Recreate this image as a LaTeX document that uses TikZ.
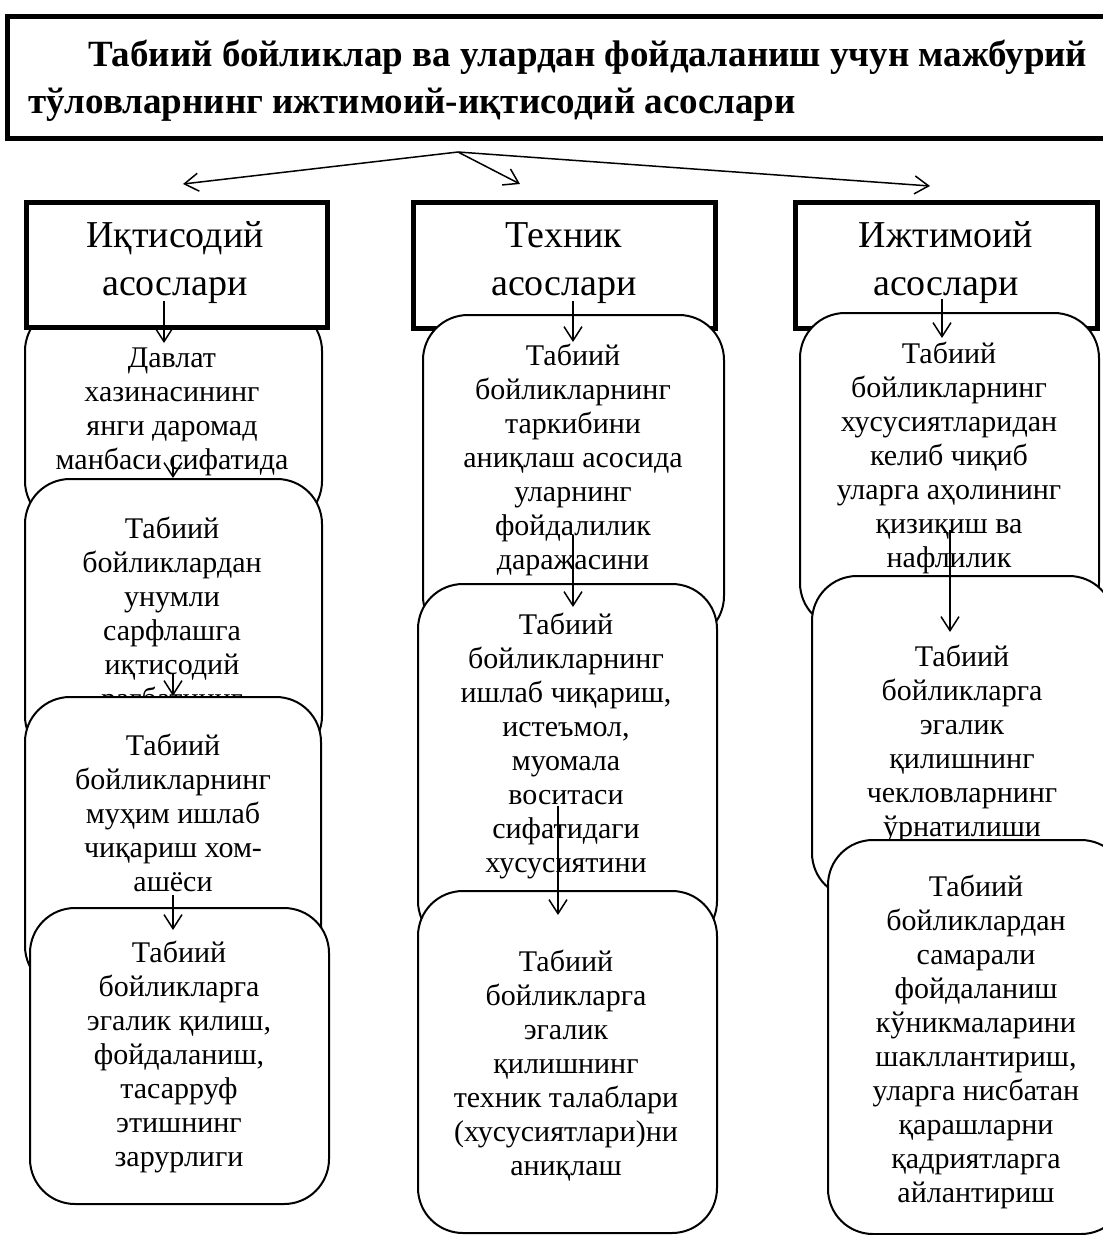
\documentclass[tikz,border=0pt]{standalone}
\usepackage{fontspec}
\setmainfont{Liberation Serif}
\usetikzlibrary{arrows.meta}
\tikzset{
  rbox/.style={draw, line width=2pt, fill=white, rounded corners=45pt, inner sep=0pt, anchor=north west},
  hbox/.style={draw, line width=4.5pt, fill=white, inner sep=0pt, anchor=north west},
  tbox/.style={draw, line width=4.5pt, fill=white, inner sep=0pt, anchor=north west},
  btext/.style={align=center, inner sep=0pt, anchor=north, font=\fontsize{30}{34}\selectfont},
  htext/.style={align=center, inner sep=0pt, anchor=north, font=\fontsize{38}{48}\selectfont},
  ttext/.style={inner sep=0pt, anchor=base west, font=\fontsize{37}{47}\selectfont\bfseries},
  arr/.style={line width=1.5pt, -{Straight Barb[length=14pt,width=18pt,line width=1.5pt]}}
}
\begin{document}
\begin{tikzpicture}[x=1pt,y=-1pt]
\useasboundingbox (0,0) rectangle (1103,1235);
% title
\node[tbox, minimum width=1110pt, minimum height=122pt] (title) at (5,14) {};
\node[ttext] (t1) at (88,66) {Табиий бойликлар ва улардан фойдаланиш учун мажбурий};
\node[ttext] (t2) at (28,113) {тўловларнинг ижтимоий-иқтисодий асослари};
% ---------- left column
\node[rbox, minimum width=297pt, minimum height=220pt] (L1) at (24,305) {};
\node[btext] (L1t) at (172,343.2) {\strut Давлат\\хазинасининг\\янги даромад\\манбаси сифатида};
\node[hbox, minimum width=301pt, minimum height=125pt] (HL) at (24,200) {};
\node[htext] (HLt) at (175,213.4) {\strut Иқтисодий\\асослари};
\node[rbox, minimum width=297pt, minimum height=282pt] (L2) at (24,478) {};
\node[btext] (L2t) at (172,514.2) {\strut Табиий\\бойликлардан\\унумли\\сарфлашга\\иқтисодий\\рағбатнинг};
\node[rbox, minimum width=296pt, minimum height=294pt] (L3) at (24,696) {};
\node[btext] (L3t) at (173,731.2) {\strut Табиий\\бойликларнинг\\муҳим ишлаб\\чиқариш хом-\\ашёси};
\node[rbox, minimum width=299pt, minimum height=296pt] (L4) at (29,907) {};
\node[btext] (L4t) at (179,938.2) {\strut Табиий\\бойликларга\\эгалик қилиш,\\фойдаланиш,\\тасарруф\\этишнинг\\зарурлиги};
% ---------- middle column
\node[hbox, minimum width=302pt, minimum height=126pt] (HM) at (411,200) {};
\node[htext] (HMt) at (564,213.4) {\strut Техник\\асослари};
\node[rbox, minimum width=301pt, minimum height=326pt] (M1) at (422,314) {};
\node[btext] (M1t) at (573,341.2) {\strut Табиий\\бойликларнинг\\таркибини\\аниқлаш асосида\\уларнинг\\фойдалилик\\даражасини};
\node[rbox, minimum width=299pt, minimum height=362pt] (M2) at (417,583) {};
\node[btext] (M2t) at (566,610.2) {\strut Табиий\\бойликларнинг\\ишлаб чиқариш,\\истеъмол,\\муомала\\воситаси\\сифатидаги\\хусусиятини};
\node[rbox, minimum width=299pt, minimum height=342pt] (M3) at (417,890) {};
\node[btext] (M3t) at (566,947.2) {\strut Табиий\\бойликларга\\эгалик\\қилишнинг\\техник талаблари\\(хусусиятлари)ни\\аниқлаш};
% ---------- right column
\node[hbox, minimum width=302pt, minimum height=126pt] (HR) at (793,200) {};
\node[htext] (HRt) at (946,213.4) {\strut Ижтимоий\\асослари};
\node[rbox, minimum width=299pt, minimum height=315pt] (R1) at (799,312) {};
\node[btext] (R1t) at (949,339.2) {\strut Табиий\\бойликларнинг\\хусусиятларидан\\келиб чиқиб\\уларга аҳолининг\\қизиқиш ва\\нафлилик};
\node[rbox, minimum width=302pt, minimum height=322pt] (R2) at (811,575) {};
\node[btext] (R2t) at (962,642.2) {\strut Табиий\\бойликларга\\эгалик\\қилишнинг\\чекловларнинг\\ўрнатилиши};
\node[rbox, minimum width=298pt, minimum height=394pt] (R3) at (827,839) {};
\node[btext] (R3t) at (976,872.2) {\strut Табиий\\бойликлардан\\самарали\\фойдаланиш\\кўникмаларини\\шакллантириш,\\уларга нисбатан\\қарашларни\\қадриятларга\\айлантириш};
% ---------- arrows
\coordinate (s0) at (458,152);
\coordinate (e1) at (183,184);
\coordinate (e2) at (520,184);
\coordinate (e3) at (930,186);
\draw[arr] (s0) -- (e1);
\draw[arr] (s0) -- (e2);
\draw[arr] (s0) -- (e3);
\coordinate (aL0) at (164,301); \coordinate (aL1) at (164,343);
\draw[arr] (aL0) -- (aL1);
\coordinate (aL2) at (173,458); \coordinate (aL3) at (173,478);
\draw[arr] (aL2) -- (aL3);
\coordinate (aL4) at (173,674); \coordinate (aL5) at (173,696);
\draw[arr] (aL4) -- (aL5);
\coordinate (aL6) at (173,895); \coordinate (aL7) at (173,930);
\draw[arr] (aL6) -- (aL7);
\coordinate (aM0) at (573,301); \coordinate (aM1) at (573,342);
\draw[arr] (aM0) -- (aM1);
\coordinate (aM2) at (573,535); \coordinate (aM3) at (573,607);
\draw[arr] (aM2) -- (aM3);
\coordinate (aM4) at (558,806); \coordinate (aM5) at (558,915);
\draw[arr] (aM4) -- (aM5);
\coordinate (aR0) at (942,299); \coordinate (aR1) at (942,338);
\draw[arr] (aR0) -- (aR1);
\coordinate (aR2) at (950,530); \coordinate (aR3) at (950,632);
\draw[arr] (aR2) -- (aR3);
\end{tikzpicture}
\end{document}
